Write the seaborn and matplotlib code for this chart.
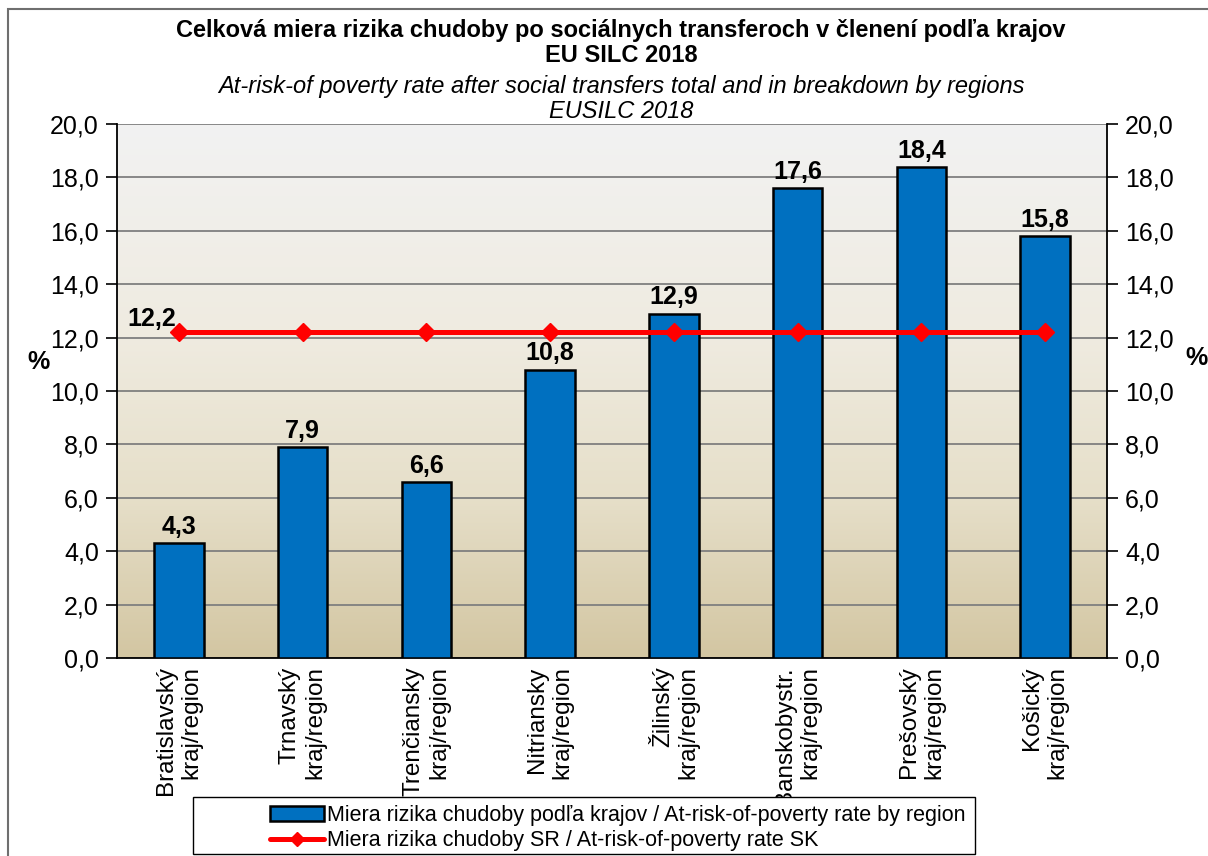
import numpy as np
import matplotlib
matplotlib.use("Agg")
import matplotlib.pyplot as plt
from matplotlib.colors import LinearSegmentedColormap
from matplotlib.patches import Rectangle
from matplotlib.lines import Line2D
import seaborn as sns

# --- data ---
regions = ["Bratislavský\nkraj/region", "Trnavský\nkraj/region", "Trenčiansky\nkraj/region",
           "Nitriansky\nkraj/region", "Žilinský\nkraj/region", "Banskobystr.\nkraj/region",
           "Prešovský\nkraj/region", "Košický\nkraj/region"]
region_rates = [4.3, 7.9, 6.6, 10.8, 12.9, 17.6, 18.4, 15.8]
sk_rate = [12.2] * len(regions)
y_ticks = np.arange(0, 21, 2)

title_sk = "Celková miera rizika chudoby po sociálnych transferoch v členení podľa krajov\nEU SILC 2018"
title_en = "At-risk-of poverty rate after social transfers total and in breakdown by regions\nEUSILC 2018"
legend_bar = "Miera rizika chudoby podľa krajov / At-risk-of-poverty rate by region"
legend_line = "Miera rizika chudoby SR / At-risk-of-poverty rate SK"

def fmt(v):
    return f"{v:.1f}".replace(".", ",")

sns.set_style("white")
plt.rcParams["font.family"] = ["Liberation Sans", "DejaVu Sans"]
plt.rcParams.update({"text.color": "black", "xtick.color": "black", "ytick.color": "black",
                     "axes.labelcolor": "black"})

W, H = 1208, 856
fig = plt.figure(figsize=(W / 100, H / 100), dpi=100)
ax = fig.add_axes([117 / W, 1 - 658 / H, 990 / W, 534 / H])

# background gradient
bg = LinearSegmentedColormap.from_list(
    "bg", [(0.0, "#D3C6A2"), (0.3, "#E6DFC9"), (0.6, "#EFEBE0"), (1.0, "#F2F2F2")])
ax.imshow(np.linspace(1, 0, 256).reshape(-1, 1), cmap=bg, aspect="auto",
          extent=(-0.5, 7.5, 0, 20), zorder=0)

sns.barplot(x=regions, y=region_rates, color="#0070C0", saturation=1, width=0.4,
            edgecolor="black", linewidth=1.8, ax=ax, zorder=3)
ax.bar_label(ax.containers[0], labels=[fmt(v) for v in region_rates], padding=3,
             fontsize=18, fontweight="bold", color="black")

x = np.arange(len(regions))
ax.plot(x, sk_rate, color="#FF0000", lw=3.6, marker="D", markersize=9, zorder=4)
ax.annotate(fmt(sk_rate[0]), (x[0], sk_rate[0]), xytext=(-2, 1), textcoords="offset points",
            ha="right", va="bottom", fontsize=18, fontweight="bold", color="black")

ax.set_xlim(-0.5, 7.5)
ax.set_ylim(0, 20)
ax.set_yticks(y_ticks)
ax.set_yticklabels([fmt(v) for v in y_ticks])
ax.yaxis.grid(True, color="#7F7F7F", lw=1.3, zorder=1)
ax.set_axisbelow(True)
ax.tick_params(axis="y", which="major", left=True, right=True, labelleft=True, labelright=True,
               length=8, width=1.2, direction="out", labelsize=18, pad=5)
ax.set_xticks(x)
ax.set_xticklabels(regions, rotation=90, fontsize=17.5)
for lbl in ax.get_xticklabels():
    lbl.set_multialignment("right")
ax.tick_params(axis="x", which="major", length=0, pad=6)
ax.set_xticks(np.arange(-0.5, 8, 1), minor=True)
ax.tick_params(axis="x", which="minor", length=8, width=1.2, direction="out")
ax.set_xlabel("")
ax.set_ylabel("")
for side in ["left", "right", "bottom"]:
    ax.spines[side].set_color("black")
    ax.spines[side].set_linewidth(1.3)
ax.spines["top"].set_visible(False)

fig.text(39 / W, 1 - 362 / H, "%", fontsize=18, fontweight="bold", ha="center", va="center")
fig.text(1197 / W, 1 - 358 / H, "%", fontsize=18, fontweight="bold", ha="center", va="center")

fig.text(621 / W, 1 - 43 / H, title_sk, fontsize=17, fontweight="bold", ha="center", va="center",
         linespacing=1.08)
fig.text(621 / W, 1 - 99 / H, title_en, fontsize=17, style="italic", ha="center", va="center",
         linespacing=1.08)

# outer chart border
fig.add_artist(Rectangle((8 / W, -0.1), 1.2, 1.1 - 9 / H, transform=fig.transFigure,
                         fill=False, edgecolor="#6F6F6F", lw=1.5))

# legend box drawn over tick labels
fig.add_artist(Rectangle((193 / W, 1 - 854 / H), (975 - 193) / W, (854 - 797) / H,
                         transform=fig.transFigure, facecolor="white", edgecolor="black",
                         lw=1.0, zorder=4))
handles = [Rectangle((0, 0), 1, 1, facecolor="#0070C0", edgecolor="black", lw=1.8),
           Line2D([], [], color="#FF0000", lw=3.6, marker="D", markersize=7)]
fig.legend(handles, [legend_bar, legend_line], loc="upper left",
           bbox_to_anchor=(257 / W, 1 - 792 / H), frameon=False, fontsize=15.5,
           handlelength=2.5, handletextpad=0.15, labelspacing=0.2, borderpad=0.1)

fig.savefig("out.png", dpi=100)
